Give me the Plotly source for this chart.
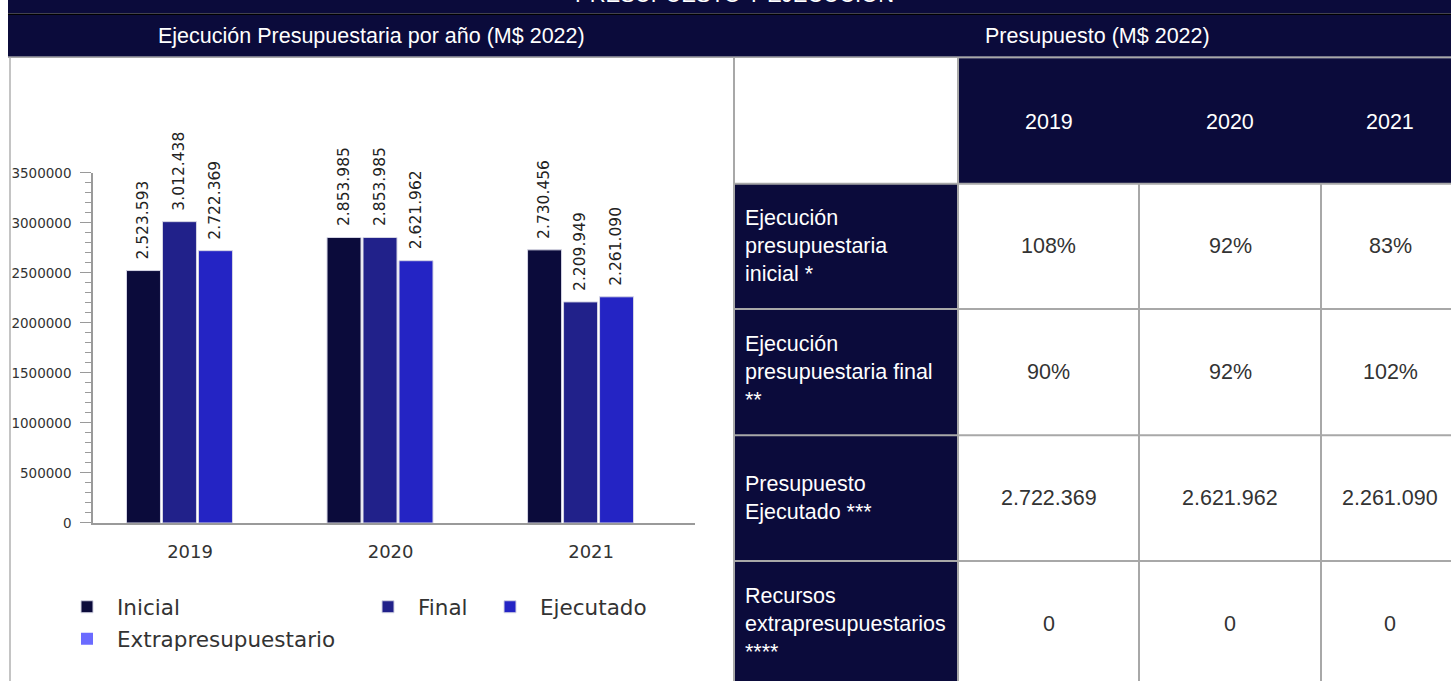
import plotly.graph_objects as go

# ---------------- data ----------------
YEARS = ["2019", "2020", "2021"]
SERIES_NAMES = ["Inicial", "Final", "Ejecutado", "Extrapresupuestario"]
INICIAL = [2523593, 2853985, 2730456]
FINAL = [3012438, 2853985, 2209949]
EJECUTADO = [2722369, 2621962, 2261090]
EXTRAPRESUPUESTARIO = [0, 0, 0]
Y_TICK_VALUES = [0, 500000, 1000000, 1500000, 2000000, 2500000, 3000000, 3500000]

PAGE_TITLE = "PRESUPUESTO Y EJECUCIÓN"
CHART_TITLE = "Ejecución Presupuestaria por año (M$ 2022)"
TABLE_TITLE = "Presupuesto (M$ 2022)"
TABLE_ROW_LABELS = [
    "Ejecución<br>presupuestaria<br>inicial *",
    "Ejecución<br>presupuestaria final<br>**",
    "Presupuesto<br>Ejecutado ***",
    "Recursos<br>extrapresupuestarios<br>****",
]
EJEC_INICIAL_PCT = ["108%", "92%", "83%"]
EJEC_FINAL_PCT = ["90%", "92%", "102%"]
PRESUPUESTO_EJECUTADO = ["2.722.369", "2.621.962", "2.261.090"]
RECURSOS_EXTRA = ["0", "0", "0"]

# ---------------- styling / layout constants ----------------
W, H = 1451, 681
V_OFF, V_SCALE = 6.7, 0.979   # vertical calibration of the photographed page
NAVY = "#0b0b3b"
GRID = "#a8a8a8"
BAR_COLORS = ["#0b0b3b", "#21218a", "#2424c4", "#6b6bff"]
BAR_LINE = "#d4d4e4"
BARGAP = 0.282
BARGROUPGAP = 0.056
HTML_FONT = "Liberation Sans, Arial, sans-serif"
CHART_FONT = "DejaVu Sans, sans-serif"

# table geometry (pixels)
COL_EDGES = [734, 958, 1139, 1321, 1459]
ROW_EDGES = [56, 183, 308.5, 435, 561, 700]


def fx(p):
    return p / W


def fy(p):
    return 1 - ((p - V_OFF) / V_SCALE) / H


def rect(x0, x1, y0, y1, color, layer="below"):
    return dict(type="rect", xref="paper", yref="paper",
                x0=fx(x0), x1=fx(x1), y0=fy(y1), y1=fy(y0),
                fillcolor=color, line=dict(width=0), layer=layer)


def hline(x0, x1, y, color, width):
    return dict(type="line", xref="paper", yref="paper",
                x0=fx(x0), x1=fx(x1), y0=fy(y), y1=fy(y),
                line=dict(color=color, width=width), layer="above")


def vline(x, y0, y1, color, width):
    return dict(type="line", xref="paper", yref="paper",
                x0=fx(x), x1=fx(x), y0=fy(y0), y1=fy(y1),
                line=dict(color=color, width=width), layer="above")


fig = go.Figure()

# ---------------- bar chart ----------------
xs = list(range(len(YEARS)))
series_values = [INICIAL, FINAL, EJECUTADO, EXTRAPRESUPUESTARIO]
legend_ids = ["legend", "legend2", "legend3", "legend4"]
for k, (name, vals, color, leg) in enumerate(zip(SERIES_NAMES, series_values, BAR_COLORS, legend_ids)):
    fig.add_trace(go.Bar(
        x=xs, y=vals, name=name, legend=leg,
        marker=dict(color=color, line=dict(color=BAR_LINE, width=1 if k < 3 else 0)),
        hovertemplate=name + ": %{y:,}<extra></extra>",
    ))

annotations = []
slot = (1 - BARGAP) / len(SERIES_NAMES)
for j, vals in enumerate(series_values[:3]):
    off = (j - (len(SERIES_NAMES) - 1) / 2) * slot
    for i, v in enumerate(vals):
        annotations.append(dict(
            x=xs[i] + off, y=v, xref="x", yref="y",
            text=f"{v:,}".replace(",", "."), showarrow=False,
            textangle=-90, xanchor="center", yanchor="bottom", yshift=9,
            font=dict(family=CHART_FONT, size=15.5, color="#222222"),
        ))

# ---------------- headers ----------------
shapes = []
shapes.append(rect(8, W, -20, 12.3, NAVY))
shapes.append(rect(8, W, 12.3, 13.6, "#000000"))
shapes.append(rect(8, W, 13.6, 55.5, NAVY))
shapes.append(hline(8, W, 56, GRID, 1.5))
shapes.append(vline(10, 56, 700, "#b0b0b0", 1.5))

annotations.append(dict(x=fx(734.5), y=fy(7.6), xref="paper", yref="paper",
                        text=PAGE_TITLE, showarrow=False, xanchor="center", yanchor="bottom",
                        font=dict(family=HTML_FONT, size=22, color="white")))
annotations.append(dict(x=fx(371), y=fy(35), xref="paper", yref="paper",
                        text=CHART_TITLE, showarrow=False, xanchor="center", yanchor="middle",
                        font=dict(family=HTML_FONT, size=21.5, color="white")))
annotations.append(dict(x=fx(1097), y=fy(35), xref="paper", yref="paper",
                        text=TABLE_TITLE, showarrow=False, xanchor="center", yanchor="middle",
                        font=dict(family=HTML_FONT, size=21.5, color="white")))

# ---------------- table ----------------
shapes.append(rect(COL_EDGES[1], W, ROW_EDGES[0] + 1, ROW_EDGES[1], NAVY))
for c, yr in enumerate(YEARS):
    cx = (COL_EDGES[c + 1] + COL_EDGES[c + 2]) / 2
    cy = (ROW_EDGES[0] + ROW_EDGES[1]) / 2 + 1.5
    annotations.append(dict(x=fx(cx), y=fy(cy), xref="paper", yref="paper",
                            text=yr, showarrow=False, xanchor="center", yanchor="middle",
                            font=dict(family=HTML_FONT, size=21.5, color="white")))

table_rows = [EJEC_INICIAL_PCT, EJEC_FINAL_PCT, PRESUPUESTO_EJECUTADO, RECURSOS_EXTRA]
for r, (label, vals) in enumerate(zip(TABLE_ROW_LABELS, table_rows)):
    y0, y1 = ROW_EDGES[r + 1], ROW_EDGES[r + 2]
    cy = (y0 + min(y1, y0 + 126)) / 2
    shapes.append(rect(COL_EDGES[0], COL_EDGES[1], y0, y1, NAVY))
    annotations.append(dict(x=fx(COL_EDGES[0] + 9.5), y=fy(cy), xref="paper", yref="paper",
                            text=label, showarrow=False, xanchor="left", yanchor="middle",
                            align="left",
                            font=dict(family=HTML_FONT, size=21.5, color="white")))
    for c, v in enumerate(vals):
        cx = (COL_EDGES[c + 1] + COL_EDGES[c + 2]) / 2
        annotations.append(dict(x=fx(cx), y=fy(cy), xref="paper", yref="paper",
                                text=v, showarrow=False, xanchor="center", yanchor="middle",
                                font=dict(family=HTML_FONT, size=21.5, color="#333333")))

# grid lines
for y in ROW_EDGES[1:-1]:
    shapes.append(hline(COL_EDGES[0], W, y, GRID, 2))
shapes.append(vline(COL_EDGES[0], ROW_EDGES[0], ROW_EDGES[-1], GRID, 2))
shapes.append(vline(COL_EDGES[1], ROW_EDGES[0], ROW_EDGES[-1], GRID, 2))
for x in COL_EDGES[2:-1]:
    shapes.append(vline(x, ROW_EDGES[1], ROW_EDGES[-1], GRID, 2))

legend_common = dict(
    xanchor="left", yanchor="middle", orientation="v", itemwidth=50,
    bgcolor="rgba(0,0,0,0)", borderwidth=0,
    font=dict(family=CHART_FONT, size=21.5, color="#333333"),
)

fig.update_layout(
    width=W, height=H, autosize=False,
    margin=dict(l=0, r=0, t=0, b=0),
    paper_bgcolor="white", plot_bgcolor="white",
    barmode="group", bargap=BARGAP, bargroupgap=BARGROUPGAP,
    showlegend=True,
    legend=dict(x=fx(57), y=fy(607), **legend_common),
    legend2=dict(x=fx(358), y=fy(607), **legend_common),
    legend3=dict(x=fx(480), y=fy(607), **legend_common),
    legend4=dict(x=fx(57), y=fy(639), **legend_common),
    xaxis=dict(
        domain=[fx(93), fx(695)], range=[-0.521, 2.481],
        tickmode="array", tickvals=[i - 0.037 for i in xs], ticktext=YEARS,
        showline=True, linecolor="#9a9a9a", linewidth=1.5,
        ticks="", showgrid=False, zeroline=False, fixedrange=True,
        tickfont=dict(family=CHART_FONT, size=18, color="#333333"),
        ticklabelstandoff=12,
    ),
    yaxis=dict(
        domain=[fy(523), fy(172)], range=[0, 3500000],
        tickmode="array", tickvals=Y_TICK_VALUES, tickformat="d",
        showline=True, linecolor="#9a9a9a", linewidth=1.5,
        ticks="outside", ticklen=11, tickwidth=1, tickcolor="#9a9a9a",
        minor=dict(ticks="outside", dtick=100000, tick0=0, ticklen=6,
                   tickwidth=1, tickcolor="#9a9a9a", showgrid=False),
        showgrid=False, zeroline=False, fixedrange=True,
        tickfont=dict(family=CHART_FONT, size=13.5, color="#333333"),
        ticklabelstandoff=6,
    ),
    shapes=shapes,
    annotations=annotations,
)

fig.write_html(
    "out.html",
    config={"displayModeBar": False},
    post_script=(
        "document.documentElement.style.margin='0';"
        "document.documentElement.style.overflow='hidden';"
        "document.body.style.margin='0';document.body.style.overflow='hidden';"
        "var gd=document.getElementById('{plot_id}');"
        "gd.style.position='fixed';gd.style.left='0px';gd.style.top='0px';"
    ),
)
